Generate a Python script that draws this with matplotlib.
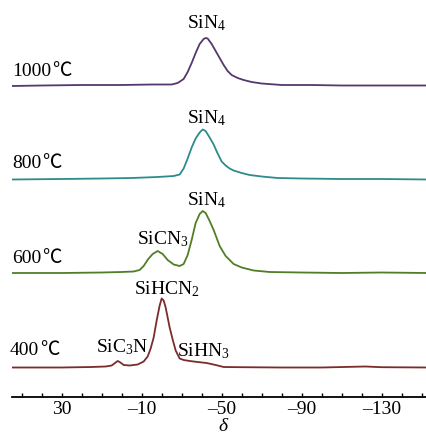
import matplotlib
matplotlib.use("Agg")
import matplotlib.pyplot as plt
import numpy as np

# ---- data (chemical shift delta, peak height above each baseline) ----
d1000 = [55, 40, 20, 0, -15, -25, -28, -31, -33, -35, -37, -39, -41, -42, -43, -45, -47, -49, -51, -53, -55, -58, -61, -65, -70, -80, -95, -110, -130, -153]
h1000 = [0, 0.5, 1, 1, 1.5, 1.5, 3, 7, 14, 23, 33, 42, 47, 48, 47.5, 42, 35, 28, 21, 15, 11, 8, 6, 4, 2.5, 1, 1, 0.5, 0.5, 0.5]

d800 = [55, 30, 10, -5, -18, -26, -29, -31, -33, -35, -37, -39, -40.5, -42, -44, -46, -48, -50, -52, -54, -56, -60, -64, -70, -78, -90, -110, -130, -153]
h800 = [0, 0.5, 1, 1.5, 2.5, 3.5, 5, 11, 21, 32, 41, 47, 50, 48.5, 42, 35, 26, 18, 14, 11, 9, 6.5, 4.5, 3, 1.5, 1, 0.5, 0.5, 0]

d600 = [55, 30, 10, 0, -6, -9, -11, -13.3, -15.5, -18, -20.5, -23, -26, -29, -31, -33, -35, -37, -39, -40.5, -42, -44, -46, -49, -52, -56, -60, -66, -74, -90, -110, -130, -153]
h600 = [0, 0, 0.5, 1, 1.5, 3, 7, 14, 19, 22, 19, 13, 8.5, 7, 9, 18, 33, 50, 59, 62, 60, 52, 43, 27, 17, 9, 5.5, 2.5, 1, 0.5, 0, 0.5, 0]

d400 = [55, 30, 15, 8, 5, 3, 2, 1, -1, -4, -8, -11, -13, -14.5, -16, -17.5, -19, -20, -21, -22, -23, -24, -25.5, -27, -29, -31, -34, -38, -42.5, -47, -51, -60, -80, -100, -122, -130, -153]
h400 = [0, 0, 0.5, 1, 2, 5, 6.5, 5.5, 2.5, 2, 3, 6, 11, 19, 30, 47, 62, 69, 67, 60, 50, 40, 28, 17, 9, 7.5, 6.5, 5.5, 4.5, 2.5, 0.5, 0.3, 0, 0, 1, 0.3, 0]

temps = ["1000", "800", "600", "400"]
unit = "\u2103"
colors = ["#54386e", "#2e8b8b", "#4f7f25", "#7b2b2b"]
series_d = [d1000, d800, d600, d400]
series_h = [h1000, h800, h600, h400]

tick_vals = [30, -10, -50, -90, -130]
tick_labels = ["30", "\u201310", "\u201350", "\u201390", "\u2013130"]
xlabel = "\u03b4"

# ---- layout ----
W, H = 427, 434
plt.rcParams['mathtext.fontset'] = 'custom'
plt.rcParams['mathtext.rm'] = 'Liberation Serif'
plt.rcParams['mathtext.it'] = 'Liberation Serif:italic'
serif = ['Liberation Serif', 'DejaVu Serif']
FS = 14

fig = plt.figure(figsize=(W / 100, H / 100), dpi=100)
axis_y_px = 397
ax = fig.add_axes([11.7 / W, (H - axis_y_px) / H, (W - 11.7) / W, axis_y_px / H])
ax.set_xlim(55, -152.7)
ax.set_ylim(0, axis_y_px)

baselines_px = [86, 179.5, 273, 367.5]
for d, h, c, b in zip(series_d, series_h, colors, baselines_px):
    y = np.asarray(h, dtype=float) + (axis_y_px - b)
    ax.plot(d, y, color=c, lw=1.3, solid_joinstyle='round')

for s in ['left', 'right', 'top']:
    ax.spines[s].set_visible(False)
ax.spines['bottom'].set_linewidth(1.3)
ax.set_yticks([])
ax.set_xticks(tick_vals)
ax.set_xticklabels(tick_labels, family=serif, fontsize=FS)
ax.set_xticks(np.arange(50, -151, -10), minor=True)
ax.tick_params(axis='x', which='both', direction='in', length=3, width=1, pad=3)

def ptext(px, py, s, **kw):
    kw.setdefault('fontsize', FS)
    return fig.text(px / W, 1 - py / H, s, ha='left', va='baseline', **kw)

# temperature labels: number in serif, unit sign from CJK font
fig.canvas.draw()
renderer = fig.canvas.get_renderer()
for t, (px, py) in zip(temps, [(12, 76), (12, 168), (12, 263), (10, 355)]):
    tx = ptext(px, py, t, family=serif)
    bb = tx.get_window_extent(renderer)
    ux = bb.x1 + 1
    fig.text(ux / W, 1 - py / H, unit, ha='left', va='baseline', fontsize=FS,
             family=['Noto Sans CJK SC', 'DejaVu Sans'])

# peak labels
ptext(187, 28.5, r"$\mathrm{SiN_4}$")
ptext(187, 123, r"$\mathrm{SiN_4}$")
ptext(187, 205, r"$\mathrm{SiN_4}$")
ptext(137, 244, r"$\mathrm{SiCN_3}$")
ptext(134, 294, r"$\mathrm{SiHCN_2}$")
ptext(96, 352, r"$\mathrm{SiC_3N}$")
ptext(177, 356, r"$\mathrm{SiHN_3}$")

fig.text(223 / W, 1 - 431 / H, xlabel, ha='center', va='baseline', fontsize=14,
         family=serif, style='italic')

fig.savefig("out.png", dpi=100)
